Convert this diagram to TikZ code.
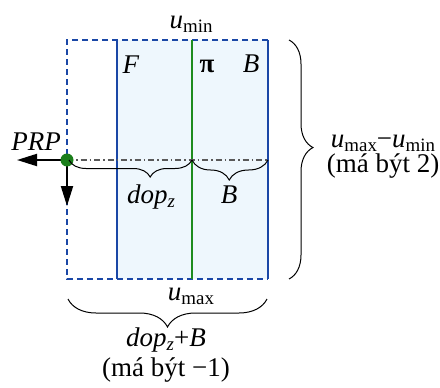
\documentclass[tikz,border=0pt]{standalone}
\usepackage{fontspec}
\setmainfont{Liberation Serif}
\usetikzlibrary{arrows.meta,decorations.pathreplacing}
\definecolor{planeblue}{HTML}{1A47A6}
\definecolor{planegreen}{HTML}{1E8C1E}
\definecolor{lightfill}{HTML}{EEF7FD}
\newcommand\lo[1]{\raisebox{-0.15em}{\scalebox{0.7}{#1}}}
\tikzset{
  lbl/.style={anchor=base, inner sep=0pt, font=\fontsize{27}{32}\selectfont},
  brc/.style={decorate, black, line width=1pt},
  plane/.style={line width=2.8pt, planeblue},
  proj/.style={line width=2.2pt, planegreen},
  axis/.style={line width=2pt, -{Triangle[length=20pt,width=12pt]}},
}
\begin{document}
\begin{tikzpicture}[x=1pt,y=-1pt]
\useasboundingbox (0,0) rectangle (440,388);
% fill
\fill[lightfill] (117,40) rectangle (268,279);
% dashed frame
\draw[planeblue, line width=1.2pt, dash pattern=on 6pt off 4pt] (268,40) -- (67,40) -- (67,279) -- (268,279);
% planes
\draw[plane] (117,40) -- (117,279);
\draw[plane] (268,40) -- (268,279);
\draw[proj] (192,40) -- (192,279);
% coordinates
\coordinate (prp) at (67,160);
\coordinate (pi) at (192,160);
\coordinate (bk) at (268,160);
\coordinate (xend) at (17,160);
\coordinate (yend) at (67,206);
% dash-dot axis
\draw[gray!70!black, line width=1.3pt, dash pattern=on 6pt off 3pt on 1.5pt off 3pt] (prp) -- (bk);
% arrows
\draw[axis] (prp) -- (xend);
\draw[axis] (prp) -- (yend);
\fill[planegreen!90!black] (prp) circle (6.5pt);
% braces
\draw[brc, decoration={brace, mirror, amplitude=17pt, aspect=0.66}] (69,160) -- (pi);
\draw[brc, decoration={brace, mirror, amplitude=20pt, aspect=0.49}] (pi) -- (bk);
\draw[brc, decoration={brace, mirror, amplitude=28pt, aspect=0.5}] (68,299) -- (267,299);
\draw[brc, decoration={brace, amplitude=24pt, aspect=0.45}] (289,40) -- (289,279);
% labels
\node[lbl] (umin) at (191,28) {\textit{u}\lo{min}};
\node[lbl] (umax) at (191,300) {\textit{u}\lo{max}};
\node[lbl] (F) at (131,73) {\textit{F}};
\node[lbl] (P) at (207,72) {\textbf{π}};
\node[lbl] (Bt) at (251,72) {\textit{B}};
\node[lbl] (PRP) at (36,150) {\textit{PRP}};
\node[lbl] (dop) at (151,203) {\textit{dop}\lo{\textit{z}}};
\node[lbl] (Bb) at (229,203) {\textit{B}};
\node[lbl] (sum) at (166,346) {\textit{dop}\lo{\textit{z}}+\textit{B}};
\node[lbl] (sumn) at (166,376) {(má být −1)};
\node[lbl] (diff) at (383,147) {\textit{u}\lo{max}−\textit{u}\lo{min}};
\node[lbl] (diffn) at (383,172) {(má být 2)};
\end{tikzpicture}
\end{document}
